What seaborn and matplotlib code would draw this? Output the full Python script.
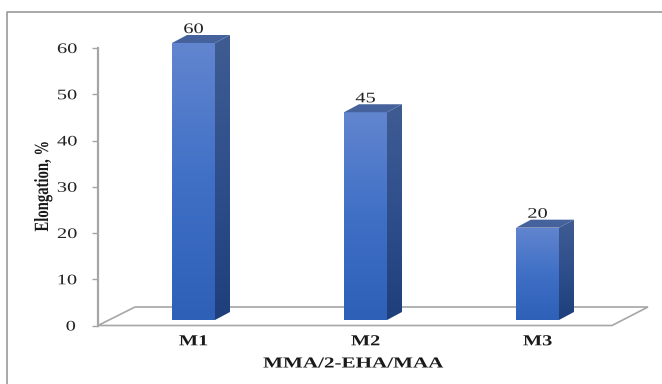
import numpy as np
import matplotlib
matplotlib.use("Agg")
import matplotlib.pyplot as plt
from matplotlib.colors import LinearSegmentedColormap
from matplotlib.patches import Polygon
from matplotlib.patheffects import AbstractPathEffect
from matplotlib.transforms import Affine2D
import seaborn as sns

samples = ["M1", "M2", "M3"]
elongation = [60, 45, 20]
value_ticks = [0, 10, 20, 30, 40, 50, 60]
x_title = "MMA/2-EHA/MAA"
y_title = "Elongation, %"

W, H = 662, 384
sns.set_theme(style="white")
fig = plt.figure(figsize=(W / 100, H / 100), dpi=100, facecolor="white")


class Stretch(AbstractPathEffect):
    """Scale a text's outline about its own centre."""

    def __init__(self, sx=1.0, sy=1.0):
        super().__init__()
        self.sx, self.sy = sx, sy

    def draw_path(self, renderer, gc, tpath, affine, rgbFace=None):
        box = tpath.get_extents(affine)
        cx, cy = (box.x0 + box.x1) / 2, (box.y0 + box.y1) / 2
        scaled = affine + Affine2D().translate(-cx, -cy).scale(self.sx, self.sy).translate(cx, cy)
        renderer.draw_path(gc, tpath, scaled, rgbFace)


def axes_px(left, top, right, bottom, **kw):
    """Axes placed by pixel edges measured from the top-left corner."""
    return fig.add_axes([left / W, 1 - bottom / H, (right - left) / W, (bottom - top) / H], **kw)


GREY = "#a6a6a6"
SERIF = "Liberation Serif"
wide = [Stretch(sx=1.4)]

# Page layer: outer frame and the floor of the 3-D plot box
page = axes_px(0, 0, W, H, zorder=0)
page.set_xlim(0, W)
page.set_ylim(H, 0)
page.axis("off")
page.plot([6.5, 6.5, W], [H, 11.5, 11.5], color="#9a9a9a", lw=1.2, solid_capstyle="butt")
page.add_patch(Polygon([(98, 325.5), (612, 325.5), (648, 307), (135, 307)], closed=True,
                       fc="white", ec=GREY, lw=1.2))

# Value axis on the front wall
wall = axes_px(98, 48, 612, 325.5, zorder=1)
wall.patch.set_alpha(0)
wall.set_xlim(0, 1)
wall.set_ylim(0, 60)
wall.set_xticks([])
wall.set_yticks(value_ticks)
wall.set_yticklabels([str(v) for v in value_ticks], family=SERIF, fontsize=10.5, color="#222222")
wall.tick_params(axis="y", left=True, length=4.5, width=1, color=GREY, pad=12.5)
for lab in wall.get_yticklabels():
    lab.set_path_effects(wide)
for side in ("top", "right", "bottom"):
    wall.spines[side].set_visible(False)
wall.spines["left"].set_color(GREY)
wall.spines["left"].set_linewidth(1.6)

# Bars stand slightly behind the front edge of the floor
ax = axes_px(107.5, 43, 623.5, 320, zorder=2)
ax.patch.set_alpha(0)
sns.barplot(x=samples, y=elongation, ax=ax, width=0.25, color="#3f6cc0", saturation=1)
ax.set_xlim(-0.5, 2.5)
ax.set_ylim(0, 60)
ax.set_yticks([])
ax.set_xlabel("")
ax.set_ylabel("")
for spine in ax.spines.values():
    spine.set_visible(False)
ax.tick_params(axis="x", bottom=False, pad=5)
for lab in ax.get_xticklabels():
    lab.set_family(SERIF)
    lab.set_fontweight("bold")
    lab.set_fontsize(11)
    lab.set_color("#1a1a1a")
    lab.set_path_effects([Stretch(sx=1.33)])

# Depth of the 3-D extrusion, in data units
depth_x = 15 / 172
depth_y = 8 / (277 / 60)

front_cmap = LinearSegmentedColormap.from_list("front", ["#6285cf", "#3f70c6", "#2f60b8"])
side_cmap = LinearSegmentedColormap.from_list("side", ["#3f5c92", "#2f4f8c", "#1f3f7c"])
grad = np.linspace(0, 1, 128).reshape(-1, 1)


def shaded_face(verts, cmap):
    xs, ys = zip(*verts)
    clip = Polygon(verts, closed=True, transform=ax.transData, fc="none", ec="none")
    ax.add_patch(clip)
    im = ax.imshow(grad, cmap=cmap, aspect="auto", origin="upper", zorder=3,
                   extent=[min(xs), max(xs), min(ys), max(ys)])
    im.set_clip_box(fig.bbox)
    im.set_clip_path(clip)


for bar, val in zip(ax.patches, elongation):
    bar.set_visible(False)
    x0 = bar.get_x()
    x1 = x0 + bar.get_width()
    top = bar.get_height()
    shaded_face([(x0, 0), (x1, 0), (x1, top), (x0, top)], front_cmap)
    shaded_face([(x1, 0), (x1 + depth_x, depth_y), (x1 + depth_x, top + depth_y), (x1, top)], side_cmap)
    ax.add_patch(Polygon([(x0, top), (x1, top), (x1 + depth_x, top + depth_y), (x0 + depth_x, top + depth_y)],
                         closed=True, fc="#46629c", ec="none", zorder=3, clip_on=False))
    ax.annotate(str(val), (x0 + bar.get_width() / 2, top), xytext=(0, 5), textcoords="offset points",
                ha="center", va="bottom", family=SERIF, fontsize=10.5, color="#222222",
                annotation_clip=False, path_effects=wide, zorder=4)

ax.set_xlim(-0.5, 2.5)
ax.set_ylim(0, 60)

# Axis titles
page.text(353, 364, x_title, ha="center", va="center", family=SERIF, fontweight="bold",
          fontsize=11, color="#1a1a1a", path_effects=[Stretch(sx=1.38)])
page.text(43, 186, y_title, ha="center", va="center", rotation=90, family=SERIF, fontweight="bold",
          fontsize=14.5, color="#1a1a1a", path_effects=[Stretch(sy=0.73)])

fig.savefig("out.png", dpi=100, facecolor="white")
